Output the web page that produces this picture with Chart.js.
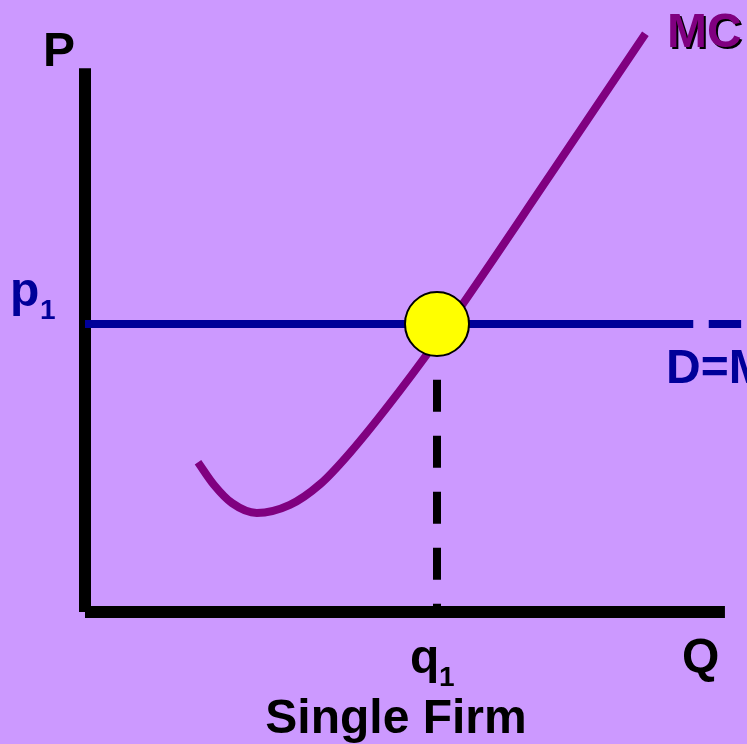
<!DOCTYPE html>
<html>
<head>
<meta charset="utf-8">
<script src="https://cdn.jsdelivr.net/npm/chart.js@4"></script>
<style>
  body { margin: 0; background: #cc99ff; }
  canvas { display: block; }
</style>
</head>
<body>
<canvas id="firmChart" width="747" height="744"></canvas>
<script>
// equilibrium of the single firm
const q1 = 50;
const p1 = 50;

// marginal cost curve
const mcQ = [16.05, 18.3, 20.9, 24.4, 29.1, 33.4, 37.6, 44.7, 51.9, 66.1, 79.6];
const mcP = [26.0, 22.1, 18.9, 17.2, 18.6, 22.2, 27.6, 38.4, 50.4, 75.9, 100.4];

// extent of the axes and the demand line
const axisTopP = 94.4;
const axisEndQ = 90.9;
const demandSolidEnd = 86.4;
const demandTail = [88.6, 93.2];
const dropTopP = 40.3;

const mcData = mcQ.map((q, i) => ({ x: q, y: mcP[i] }));

// px per unit, so the origin sits where the picture has it
const pxX = 7.04;
const pxY = 5.76;
const originX = 85;
const originY = 612;

const labels = {
  id: "labels",
  afterDraw(chart) {
    const ctx = chart.ctx;
    const xs = chart.scales.x;
    const ys = chart.scales.y;
    const font = "Liberation Sans, Arial, sans-serif";
    ctx.save();
    ctx.textBaseline = "alphabetic";
    ctx.textAlign = "left";

    ctx.fillStyle = "#000000";
    ctx.font = "bold 48px " + font;
    ctx.fillText("P", 43, 66);
    ctx.fillText("Q", 682, 672);

    let qx = xs.getPixelForValue(q1);
    ctx.fillText("q", qx - 27, 673);
    ctx.font = "bold 28px " + font;
    ctx.fillText("1", qx + 2, 686);

    ctx.textAlign = "center";
    ctx.font = "bold 48px " + font;
    ctx.fillText("Single Firm", 396, 733);
    ctx.textAlign = "left";

    // MC with its drop shadow
    ctx.fillStyle = "#000000";
    ctx.fillText("MC", 669, 49);
    ctx.fillStyle = "#800080";
    ctx.fillText("MC", 667, 47);

    ctx.fillStyle = "#000099";
    let py = ys.getPixelForValue(p1);
    ctx.fillText("p", 10, py - 18);
    ctx.font = "bold 28px " + font;
    ctx.fillText("1", 40, py - 5);
    ctx.font = "bold 48px " + font;
    ctx.fillText("D=MR", 666, 383);
    ctx.restore();
  },
};

const ctx = document.getElementById("firmChart").getContext("2d");
new Chart(ctx, {
  type: "scatter",
  data: {
    datasets: [
      {
        label: "equilibrium",
        data: [{ x: q1, y: p1 }],
        pointRadius: 32,
        pointBackgroundColor: "#ffff00",
        pointBorderColor: "#000000",
        pointBorderWidth: 2,
        showLine: false,
      },
      {
        label: "MC",
        data: mcData,
        showLine: true,
        borderColor: "#800080",
        borderWidth: 8,
        pointRadius: 0,
        cubicInterpolationMode: "monotone",
      },
      {
        label: "D=MR",
        data: [{ x: 0, y: p1 }, { x: demandSolidEnd, y: p1 }],
        showLine: true,
        borderColor: "#000099",
        borderWidth: 8,
        pointRadius: 0,
      },
      {
        label: "D=MR tail",
        data: [{ x: demandTail[0], y: p1 }, { x: demandTail[1], y: p1 }],
        showLine: true,
        borderColor: "#000099",
        borderWidth: 8,
        pointRadius: 0,
      },
      {
        label: "P axis",
        data: [{ x: 0, y: 0 }, { x: 0, y: axisTopP }],
        showLine: true,
        borderColor: "#000000",
        borderWidth: 12,
        pointRadius: 0,
      },
      {
        label: "Q axis",
        data: [{ x: 0, y: 0 }, { x: axisEndQ, y: 0 }],
        showLine: true,
        borderColor: "#000000",
        borderWidth: 12,
        pointRadius: 0,
      },
      {
        label: "q1 drop",
        data: [{ x: q1, y: dropTopP }, { x: q1, y: 0 }],
        showLine: true,
        borderColor: "#000000",
        borderWidth: 8,
        borderDash: [32, 24],
        pointRadius: 0,
      },
    ],
  },
  options: {
    responsive: false,
    animation: false,
    layout: { padding: 0, autoPadding: false },
    plugins: {
      legend: { display: false },
      tooltip: { enabled: false },
    },
    scales: {
      x: {
        display: false,
        min: -originX / pxX,
        max: (747 - originX) / pxX,
      },
      y: {
        display: false,
        min: -(744 - originY) / pxY,
        max: originY / pxY,
      },
    },
  },
  plugins: [labels],
});
</script>
</body>
</html>
